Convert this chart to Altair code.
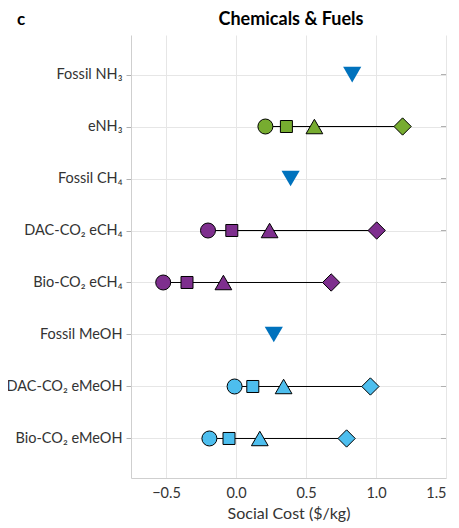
import altair as alt
import pandas as pd

# ---- data ----
rows = ["Fossil NH₃", "eNH₃", "Fossil CH₄", "DAC-CO₂ eCH₄", "Bio-CO₂ eCH₄",
        "Fossil MeOH", "DAC-CO₂ eMeOH", "Bio-CO₂ eMeOH"]

e_products = ["eNH₃", "DAC-CO₂ eCH₄", "Bio-CO₂ eCH₄", "DAC-CO₂ eMeOH", "Bio-CO₂ eMeOH"]
e_groups = ["NH3", "CH4", "CH4", "MeOH", "MeOH"]
circle_vals = [0.21, -0.20, -0.52, -0.01, -0.19]
square_vals = [0.36, -0.03, -0.35, 0.12, -0.05]
triangle_vals = [0.56, 0.24, -0.09, 0.34, 0.17]
diamond_vals = [1.19, 1.005, 0.68, 0.96, 0.79]

fossil_products = ["Fossil NH₃", "Fossil CH₄", "Fossil MeOH"]
fossil_vals = [0.83, 0.39, 0.27]

x_ticks = [-0.5, 0, 0.5, 1, 1.5]
title_text = "Chemicals & Fuels"
panel_letter = "c"

# ---- tables ----
recs = []
for p, g, c, s, t, d in zip(e_products, e_groups, circle_vals, square_vals, triangle_vals, diamond_vals):
    for kind, v in (("circle", c), ("square", s), ("triangle", t), ("diamond", d)):
        recs.append({"product": p, "group": g, "kind": kind, "value": v})
epts = pd.DataFrame(recs)
ranges = pd.DataFrame({"product": e_products,
                       "lo": [min(a) for a in zip(circle_vals, square_vals, triangle_vals, diamond_vals)],
                       "hi": [max(a) for a in zip(circle_vals, square_vals, triangle_vals, diamond_vals)]})
fossil = pd.DataFrame({"product": fossil_products, "value": fossil_vals, "group": ["Fossil"] * 3})
rowdf = pd.DataFrame({"product": rows})

FONT = "Lato"
xscale = alt.Scale(domain=[-0.75, 1.5], nice=False, zero=False)
yscale = alt.Scale(domain=rows, type="point", padding=0.76)
color_scale = alt.Scale(domain=["NH3", "CH4", "MeOH", "Fossil"],
                        range=["#77AC30", "#7E2F8E", "#4DBEEE", "#0072BD"])

x_axis = alt.Axis(values=x_ticks, title="Social Cost ($/kg)", grid=True,
                  ticks=False, labelPadding=8, titlePadding=6)
y_enc = alt.Y("product:N", scale=yscale, sort=rows,
              axis=alt.Axis(title=None, grid=True, tickSize=5, labelPadding=4, labelLimit=200))
fill_enc = alt.Fill("group:N", scale=color_scale, legend=None)

lines = alt.Chart(ranges).mark_rule(color="black", strokeWidth=1).encode(
    x=alt.X("lo:Q", scale=xscale, axis=x_axis),
    x2="hi:Q",
    y=y_enc,
)

layers = [lines]
for kind, shape, size in (("circle", "circle", 225), ("square", "square", 144),
                          ("triangle", "triangle-up", 280), ("diamond", "diamond", 300)):
    layers.append(
        alt.Chart(epts).transform_filter(alt.datum.kind == kind)
        .mark_point(filled=True, opacity=1, stroke="black", strokeWidth=1, shape=shape, size=size)
        .encode(x=alt.X("value:Q", scale=xscale, axis=x_axis), y=y_enc, fill=fill_enc)
    )

layers.append(
    alt.Chart(fossil).mark_point(filled=True, opacity=1, strokeWidth=0, shape="triangle-down", size=330)
    .encode(x=alt.X("value:Q", scale=xscale, axis=x_axis), y=y_enc, fill=fill_enc)
)

# inner ticks on the right edge
layers.append(
    alt.Chart(rowdf).mark_rule(color="#b0b0b0", strokeWidth=1)
    .encode(x=alt.value(310), x2=alt.value(315), y=y_enc)
)

# panel letter and title
layers.append(
    alt.Chart(pd.DataFrame({"t": [panel_letter]})).mark_text(
        font=FONT, fontSize=17, fontWeight="bold", align="left", baseline="alphabetic", color="black"
    ).encode(text="t:N", x=alt.value(-114), y=alt.value(-10))
)
layers.append(
    alt.Chart(pd.DataFrame({"t": [title_text]})).mark_text(
        font=FONT, fontSize=18, fontWeight="bold", align="center", baseline="alphabetic", color="black"
    ).encode(text="t:N", x=alt.value(160), y=alt.value(-10))
)

chart = alt.layer(*layers).properties(
    width=315, height=443,
    autosize=alt.AutoSizeParams(type="none"),
    padding={"left": 123, "top": 27, "right": 5, "bottom": 45},
).configure_view(stroke=None).configure_axis(
    labelFont=FONT, titleFont=FONT, labelFontSize=14.5, titleFontSize=16,
    labelColor="#333333", titleColor="#333333", titleFontWeight="normal",
    gridColor="#e6e6e6", domainColor="#cfcfcf", tickColor="#b0b0b0",
)

chart.save("out.html", embed_options={"renderer": "svg", "actions": False})
